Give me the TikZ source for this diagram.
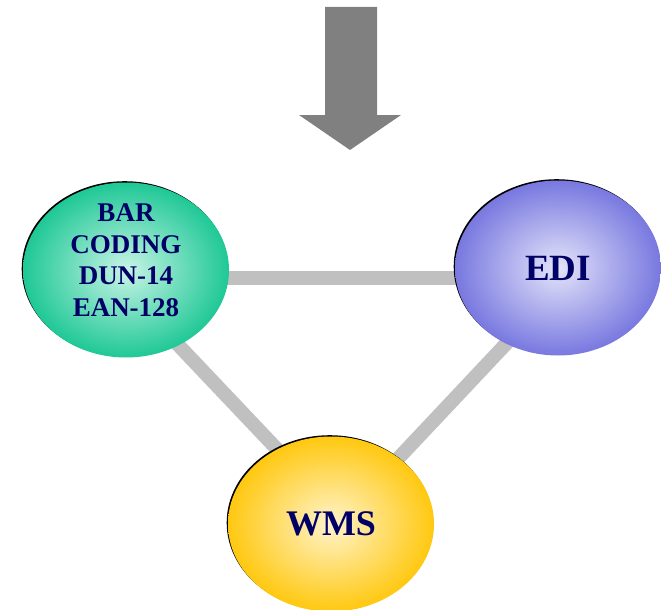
\documentclass[tikz,border=0pt]{standalone}
\usepackage{fontspec}
\setmainfont{Liberation Serif}
\usetikzlibrary{shapes.geometric,shadows,backgrounds,calc}
\definecolor{navy}{HTML}{000066}
\definecolor{linkgray}{HTML}{C0C0C0}
\definecolor{arrowgray}{HTML}{808080}
\definecolor{gin}{HTML}{C8F4E6}
\definecolor{gout}{HTML}{1FC896}
\definecolor{bin}{HTML}{E4E4FA}
\definecolor{bout}{HTML}{7878E0}
\definecolor{yin}{HTML}{FFF4CC}
\definecolor{yout}{HTML}{FFC810}
\tikzset{
  bubble/.style={ellipse, minimum width=206pt, minimum height=175pt, inner sep=0pt,
    text=navy, font=\bfseries, align=center,
    general shadow={fill=black, shadow xshift=-1.3pt, shadow yshift=1.3pt}},
  link/.style={draw=linkgray, line width=14pt},
}
\begin{document}
\begin{tikzpicture}[x=1pt,y=-1pt]
\useasboundingbox (0,0) rectangle (661,610);
% arrow
\fill[arrowgray] (325,7) -- (377,7) -- (377,115) -- (401,115) -- (350,150) -- (299,115) -- (325,115) -- cycle;
% nodes
\node[bubble, shading=radial, inner color=gin, outer color=gout,
  label={[text=navy, align=center, font=\bfseries\fontsize{27}{31.5}\selectfont, yshift=10pt]center:BAR\\CODING\\DUN-14\\EAN-128}] (g) at (126,270) {};
\node[bubble, shading=radial, inner color=bin, outer color=bout,
  font=\bfseries\fontsize{37}{40}\selectfont] (e) at (558,268) {EDI};
\node[bubble, shading=radial, inner color=yin, outer color=yout,
  font=\bfseries\fontsize{36}{40}\selectfont] (w) at (331,524) {WMS};
% links
\begin{pgfonlayer}{background}
\draw[link] ($(g)+(74,8)$) -- ($(e)+(-78,10)$);
\draw[link] ($(g)+(39,61)$) -- ($(w)+(-39,-59)$);
\draw[link] ($(e)+(-38,61)$) -- ($(w)+(61,-59)$);
\end{pgfonlayer}
\end{tikzpicture}
\end{document}
